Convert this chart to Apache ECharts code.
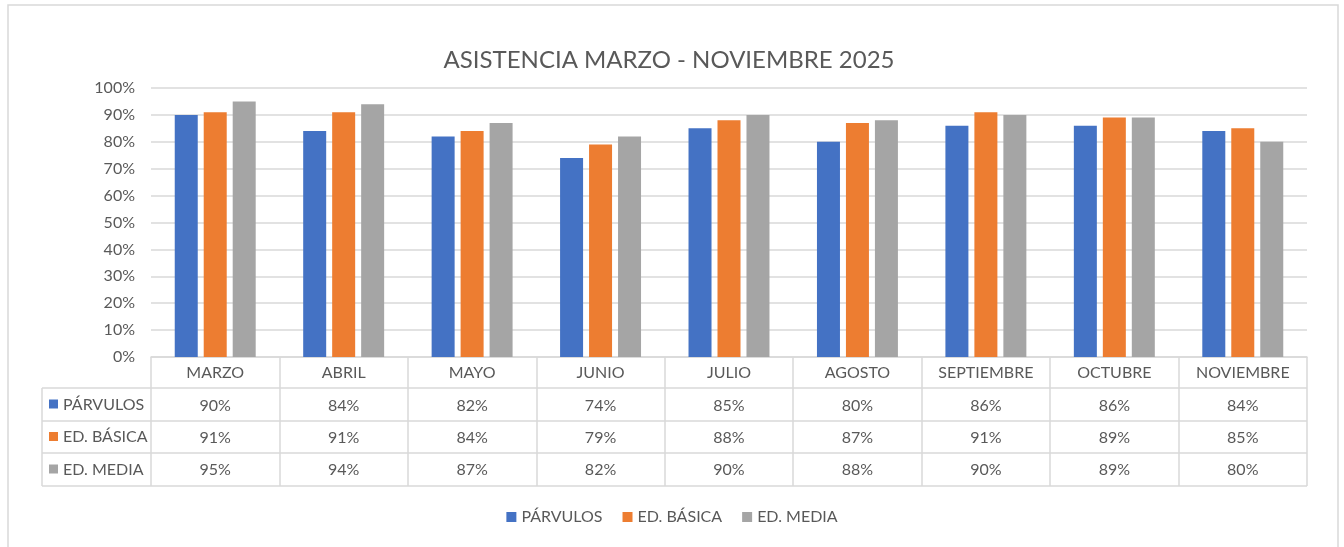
<!DOCTYPE html>
<html>
<head>
<meta charset="utf-8">
<script src="https://cdn.jsdelivr.net/npm/echarts@6/dist/echarts.min.js"></script>
<style>
  html, body { margin: 0; padding: 0; background: #fff; }
  #chart { width: 1344px; height: 547px; }
</style>
</head>
<body>
<div id="chart"></div>
<script>
var meses = ['MARZO', 'ABRIL', 'MAYO', 'JUNIO', 'JULIO', 'AGOSTO', 'SEPTIEMBRE', 'OCTUBRE', 'NOVIEMBRE'];
var parvulos = [90, 84, 82, 74, 85, 80, 86, 86, 84];
var basica = [91, 91, 84, 79, 88, 87, 91, 89, 85];
var media = [95, 94, 87, 82, 90, 88, 90, 89, 80];
var nombres = ['PÁRVULOS', 'ED. BÁSICA', 'ED. MEDIA'];
var colores = ['#4472C4', '#ED7D31', '#A5A5A5'];

var FONT = 'Lato';
var TXT = '#595959';
var LINE = '#D9D9D9';

// layout of plot + data table
var gL = 151, gR = 1307, gT = 88, gB = 357;
var tL = 42;
var rows = [357, 388, 421, 453, 486];

var chart = echarts.init(document.getElementById('chart'));

var graphics = [];
// outer frame
graphics.push({ type: 'rect', shape: { x: 8, y: 5, width: 1330, height: 560 },
  style: { fill: 'none', stroke: LINE, lineWidth: 1.5 }, silent: true });
// table horizontal lines
for (var i = 1; i < rows.length; i++) {
  graphics.push({ type: 'line', shape: { x1: tL, y1: rows[i], x2: gR, y2: rows[i] },
    style: { stroke: LINE, lineWidth: 1.5 }, silent: true });
}
// left edge of the series-name column
graphics.push({ type: 'line', shape: { x1: tL, y1: rows[1], x2: tL, y2: rows[4] },
  style: { stroke: LINE, lineWidth: 1.5 }, silent: true });
// row headers with colour keys
for (var r = 0; r < 3; r++) {
  var cy = (rows[r + 1] + rows[r + 2]) / 2;
  graphics.push({ type: 'rect', shape: { x: 49, y: cy - 5, width: 9, height: 9 },
    style: { fill: colores[r] }, silent: true });
  graphics.push({ type: 'text', x: 63, y: cy,
    style: { text: nombres[r], fill: TXT, font: '16px ' + FONT, textVerticalAlign: 'middle' }, silent: true });
}

function filaAxis(valores, offset) {
  return {
    type: 'category', data: meses, position: 'bottom', offset: offset,
    axisLine: { show: false }, axisTick: { show: false },
    axisLabel: {
      color: TXT, fontFamily: FONT, fontSize: 16, margin: 9, interval: 0,
      formatter: function (v, idx) { return valores[idx] + '%'; }
    }
  };
}

chart.setOption({
  animation: false,
  title: {
    text: 'ASISTENCIA MARZO - NOVIEMBRE 2025',
    left: 664, top: 43, textAlign: 'center',
    textStyle: { color: TXT, fontFamily: FONT, fontSize: 24, fontWeight: 'normal' }
  },
  legend: {
    data: nombres, bottom: 17, left: 'center',
    itemWidth: 10, itemHeight: 10, itemGap: 20, icon: 'rect',
    textStyle: { color: TXT, fontFamily: FONT, fontSize: 16 }
  },
  grid: { left: gL, right: 1344 - gR, top: gT, bottom: 547 - gB },
  xAxis: [
    {
      type: 'category', data: meses,
      axisLine: { lineStyle: { color: LINE, width: 1.5 } },
      axisTick: { show: true, length: rows[4] - gB, lineStyle: { color: LINE, width: 1.5 } },
      axisLabel: { color: TXT, fontFamily: FONT, fontSize: 16, margin: 8, interval: 0 }
    },
    filaAxis(parvulos, 32),
    filaAxis(basica, 64),
    filaAxis(media, 96)
  ],
  yAxis: {
    type: 'value', min: 0, max: 100, interval: 10,
    axisLine: { show: false }, axisTick: { show: false },
    axisLabel: { color: TXT, fontFamily: FONT, fontSize: 16, margin: 16, formatter: '{value}%' },
    splitLine: { lineStyle: { color: LINE, width: 1.5 } }
  },
  series: [
    { name: nombres[0], type: 'bar', data: parvulos, barWidth: 23, barGap: '26%', itemStyle: { color: colores[0] } },
    { name: nombres[1], type: 'bar', data: basica, barWidth: 23, barGap: '26%', itemStyle: { color: colores[1] } },
    { name: nombres[2], type: 'bar', data: media, barWidth: 23, barGap: '26%', itemStyle: { color: colores[2] } }
  ],
  graphic: graphics
});
</script>
</body>
</html>
